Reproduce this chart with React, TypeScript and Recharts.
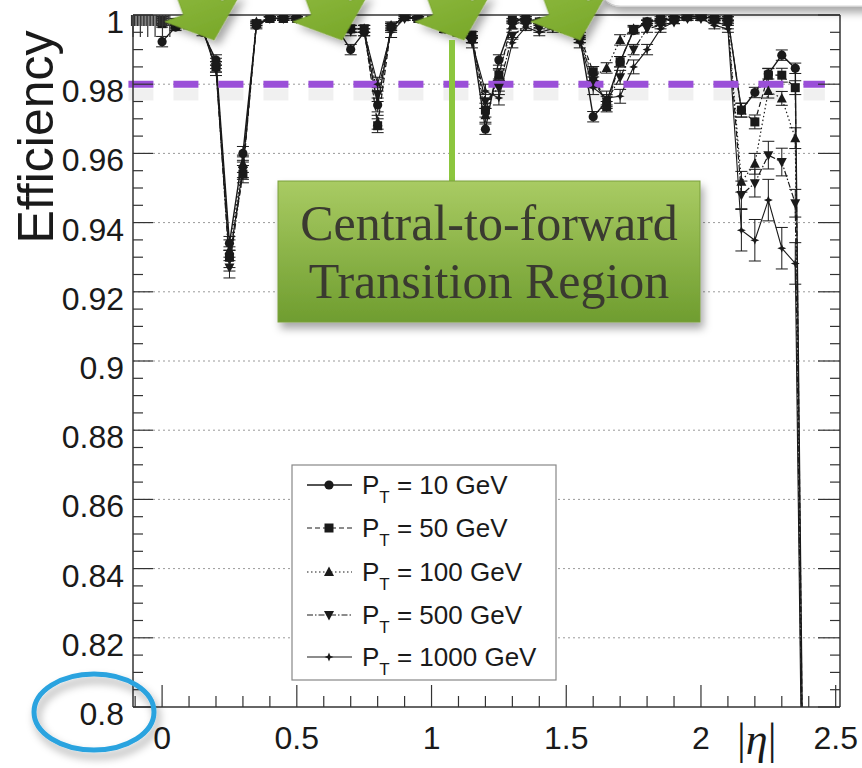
import React from 'react'
import { LineChart, Line, XAxis, YAxis, ErrorBar, ReferenceLine } from 'recharts'

// |eta| bin centres
const etaBins = [
  0, 0.05, 0.1, 0.15, 0.2, 0.25, 0.3, 0.35, 0.4, 0.45,
  0.5, 0.55, 0.6, 0.65, 0.7, 0.75, 0.8, 0.85, 0.9, 0.95,
  1.0, 1.05, 1.1, 1.15, 1.2, 1.25, 1.3, 1.35, 1.4, 1.45,
  1.5, 1.55, 1.6, 1.65, 1.7, 1.75, 1.8, 1.85, 1.9, 1.95,
  2.0, 2.05, 2.1, 2.15, 2.2, 2.25, 2.3, 2.35, 2.4,
]

const eff10 = [
  0.9923, 0.9965, 0.997, 0.995, 0.987, 0.934, 0.96, 0.997, 0.999, 0.999,
  0.999, 0.9985, 0.998, 0.996, 0.99, 0.995, 0.974, 0.9965, 0.9995, 0.999,
  0.9985, 0.997, 0.996, 0.993, 0.967, 0.987, 0.998, 0.999, 0.998, 0.998,
  0.997, 0.994, 0.9706, 0.975, 0.9865, 0.9955, 0.998, 0.9985, 0.999, 0.9995,
  0.9995, 0.999, 0.999, 0.9725, 0.9776, 0.983, 0.9884, 0.9846, 0.62,
]
const eff50 = [
  0.9975, 0.997, 0.998, 0.996, 0.985, 0.93, 0.954, 0.9975, 0.999, 0.999,
  0.999, 0.9985, 0.998, 0.997, 0.996, 0.996, 0.968, 0.9966, 0.9995, 0.999,
  0.9985, 0.996, 0.996, 0.9942, 0.9725, 0.9826, 0.9985, 0.999, 0.998, 0.998,
  0.997, 0.994, 0.9836, 0.9735, 0.9865, 0.9958, 0.998, 0.999, 0.999, 0.9995,
  0.9995, 0.999, 0.999, 0.9725, 0.9691, 0.9826, 0.9826, 0.979, 0.62,
]
const eff100 = [
  0.998, 0.9975, 0.998, 0.996, 0.986, 0.932, 0.957, 0.998, 0.999, 0.999,
  0.999, 0.9985, 0.998, 0.997, 0.996, 0.996, 0.969, 0.997, 0.9995, 0.999,
  0.9985, 0.996, 0.995, 0.993, 0.971, 0.983, 0.997, 0.9985, 0.998, 0.9975,
  0.9965, 0.993, 0.982, 0.9847, 0.9928, 0.996, 0.998, 0.998, 0.999, 0.9995,
  0.9995, 0.999, 0.998, 0.9518, 0.957, 0.978, 0.9759, 0.9644, 0.62,
]
const eff500 = [
  0.9985, 0.998, 0.998, 0.996, 0.985, 0.927, 0.955, 0.9975, 0.999, 0.999,
  0.999, 0.9985, 0.998, 0.997, 0.996, 0.996, 0.977, 0.996, 0.999, 0.999,
  0.998, 0.996, 0.995, 0.993, 0.975, 0.979, 0.994, 0.997, 0.996, 0.997,
  0.996, 0.993, 0.981, 0.975, 0.982, 0.99, 0.996, 0.997, 0.998, 0.999,
  0.999, 0.998, 0.997, 0.948, 0.9514, 0.9595, 0.9575, 0.9456, 0.62,
]
const eff1000 = [
  0.9985, 0.998, 0.998, 0.996, 0.984, 0.929, 0.956, 0.997, 0.999, 0.999,
  0.999, 0.998, 0.998, 0.997, 0.995, 0.995, 0.98, 0.995, 0.999, 0.999,
  0.998, 0.996, 0.995, 0.992, 0.978, 0.976, 0.992, 0.9965, 0.995, 0.996,
  0.996, 0.992, 0.979, 0.976, 0.9765, 0.985, 0.99, 0.996, 0.998, 0.999,
  0.999, 0.997, 0.996, 0.9378, 0.9349, 0.9465, 0.9326, 0.9282, 0.62,
]

// statistical errors (efficiency units)
const err10 = [
  0.0015, 0.001, 0.001, 0.001, 0.0015, 0.002, 0.002, 0.0005, 0.0005, 0.0005,
  0.0005, 0.0005, 0.0005, 0.001, 0.0015, 0.001, 0.002, 0.001, 0.0005, 0.0005,
  0.0005, 0.001, 0.001, 0.001, 0.0015, 0.0015, 0.0005, 0.0005, 0.0005, 0.0005,
  0.001, 0.001, 0.0015, 0.0015, 0.0015, 0.001, 0.0005, 0.0005, 0.0005, 0.0005,
  0.0005, 0.0005, 0.0005, 0.002, 0.0015, 0.0015, 0.0015, 0.0015, 0,
]
const err50 = [
  0.001, 0.001, 0.001, 0.001, 0.0015, 0.003, 0.0025, 0.0005, 0.0005, 0.0005,
  0.0005, 0.0005, 0.0005, 0.001, 0.001, 0.001, 0.002, 0.001, 0.0005, 0.0005,
  0.0005, 0.001, 0.001, 0.001, 0.002, 0.0015, 0.0005, 0.0005, 0.0005, 0.0005,
  0.001, 0.001, 0.0015, 0.0015, 0.0015, 0.001, 0.0005, 0.0005, 0.0005, 0.0005,
  0.0005, 0.0005, 0.0005, 0.002, 0.002, 0.002, 0.002, 0.002, 0,
]
const err100 = [
  0.001, 0.001, 0.001, 0.001, 0.0015, 0.003, 0.0025, 0.0005, 0.0005, 0.0005,
  0.0005, 0.0005, 0.0005, 0.001, 0.001, 0.001, 0.002, 0.001, 0.0005, 0.0005,
  0.0005, 0.001, 0.001, 0.001, 0.002, 0.0015, 0.001, 0.0005, 0.0005, 0.0005,
  0.001, 0.001, 0.0015, 0.0015, 0.0015, 0.001, 0.0005, 0.0005, 0.0005, 0.0005,
  0.0005, 0.0005, 0.0005, 0.003, 0.003, 0.002, 0.002, 0.003, 0,
]
const err500 = [
  0.001, 0.001, 0.001, 0.001, 0.0015, 0.003, 0.0025, 0.0005, 0.0005, 0.0005,
  0.0005, 0.0005, 0.0005, 0.001, 0.001, 0.001, 0.002, 0.001, 0.0005, 0.0005,
  0.0005, 0.001, 0.001, 0.001, 0.002, 0.002, 0.001, 0.001, 0.001, 0.001,
  0.001, 0.001, 0.002, 0.002, 0.002, 0.0015, 0.001, 0.001, 0.0005, 0.0005,
  0.0005, 0.0005, 0.001, 0.004, 0.004, 0.004, 0.004, 0.004, 0,
]
const err1000 = [
  0.001, 0.001, 0.001, 0.001, 0.0015, 0.003, 0.003, 0.001, 0.0005, 0.0005,
  0.0005, 0.0005, 0.0005, 0.001, 0.001, 0.001, 0.002, 0.0015, 0.0005, 0.0005,
  0.0005, 0.001, 0.001, 0.0015, 0.002, 0.002, 0.0015, 0.001, 0.001, 0.001,
  0.001, 0.0015, 0.002, 0.002, 0.002, 0.002, 0.0015, 0.001, 0.0005, 0.0005,
  0.0005, 0.001, 0.001, 0.006, 0.006, 0.006, 0.006, 0.006, 0,
]

const yMajor = [0.8, 0.82, 0.84, 0.86, 0.88, 0.9, 0.92, 0.94, 0.96, 0.98, 1]
const xMajor = [0, 0.5, 1, 1.5, 2, 2.5]
const threshold = 0.98

const ptLabels = ['10', '50', '100', '500', '1000']

const round3 = (v: number) => Math.round(v * 1000) / 1000

// minor ticks: 4 subdivisions on y, 5 on x
const yTicks: number[] = []
yMajor.forEach((v, i) => {
  if (i === yMajor.length - 1) { yTicks.push(v); return }
  const step = (yMajor[i + 1] - v) / 4
  for (let k = 0; k < 4; k++) yTicks.push(round3(v + k * step))
})
const xTicks: number[] = [-0.1]
xMajor.forEach((v, i) => {
  if (i === xMajor.length - 1) { xTicks.push(v); return }
  for (let k = 0; k < 5; k++) xTicks.push(round3(v + k * 0.1))
})

const isMajorY = (v: number) => yMajor.some((m) => Math.abs(m - v) < 1e-6)
const isMajorX = (v: number) => xMajor.some((m) => Math.abs(m - v) < 1e-6)
const fmt = (v: number) => String(Number(v.toFixed(2)))

const rows = etaBins.map((eta, i) => ({
  eta,
  pt10: eff10[i], pt50: eff50[i], pt100: eff100[i], pt500: eff500[i], pt1000: eff1000[i],
  e10: err10[i], e50: err50[i], e100: err100[i], e500: err500[i], e1000: err1000[i],
}))

type MarkerKind = 'circle' | 'square' | 'up' | 'down' | 'star'

const series: Array<{ key: string; err: string; marker: MarkerKind; dash?: string; width: number }> = [
  { key: 'pt10', err: 'e10', marker: 'circle', width: 1.4 },
  { key: 'pt50', err: 'e50', marker: 'square', dash: '5 3', width: 1.2 },
  { key: 'pt100', err: 'e100', marker: 'up', dash: '1.5 2.5', width: 1.2 },
  { key: 'pt500', err: 'e500', marker: 'down', dash: '6 2 1.5 2', width: 1.2 },
  { key: 'pt1000', err: 'e1000', marker: 'star', width: 1.1 },
]

const INK = '#1a1a1a'
const SANS = '"Liberation Sans", Arial, Helvetica, sans-serif'
const SERIF = '"Liberation Serif", "Times New Roman", serif'

function Marker({ kind, cx, cy }: { kind: MarkerKind; cx: number; cy: number }) {
  switch (kind) {
    case 'circle':
      return <circle cx={cx} cy={cy} r={4.6} fill={INK} />
    case 'square':
      return <rect x={cx - 4.5} y={cy - 4.5} width={9} height={9} fill={INK} />
    case 'up':
      return <path d={`M${cx},${cy - 5.5}L${cx + 5},${cy + 4}L${cx - 5},${cy + 4}Z`} fill={INK} />
    case 'down':
      return <path d={`M${cx},${cy + 5.5}L${cx + 5},${cy - 4}L${cx - 5},${cy - 4}Z`} fill={INK} />
    default:
      return (
        <path
          d={`M${cx},${cy - 4.5}L${cx + 1.3},${cy - 1.3}L${cx + 4.5},${cy}L${cx + 1.3},${cy + 1.3}L${cx},${cy + 4.5}L${cx - 1.3},${cy + 1.3}L${cx - 4.5},${cy}L${cx - 1.3},${cy - 1.3}Z`}
          fill={INK}
        />
      )
  }
}

function LeftTick({ x, y, payload }: any) {
  const major = isMajorY(payload.value)
  return (
    <g>
      <line x1={x} x2={x + (major ? 20 : 10)} y1={y} y2={y} stroke="#333" strokeWidth={1.2} />
      {major && (
        <text x={x - 9} y={y + 18} textAnchor="end" fontSize={32} fontFamily={SANS} fill={INK}>
          {fmt(payload.value)}
        </text>
      )}
    </g>
  )
}

function RightTick({ x, y, payload }: any) {
  const major = isMajorY(payload.value)
  return <line x1={x} x2={x - (major ? 22 : 10)} y1={y} y2={y} stroke="#333" strokeWidth={1.2} />
}

function BottomTick({ x, y, payload }: any) {
  const major = isMajorX(payload.value)
  return (
    <g>
      <line x1={x} x2={x} y1={y} y2={y - (major ? 22 : 11)} stroke="#333" strokeWidth={1.2} />
      {major && (
        <text x={x} y={y + 42} textAnchor="middle" fontSize={32} fontFamily={SANS} fill={INK}>
          {fmt(payload.value)}
        </text>
      )}
    </g>
  )
}

function TopTick({ x, y, payload }: any) {
  const major = isMajorX(payload.value)
  return <line x1={x} x2={x} y1={y} y2={y + (major ? 22 : 11)} stroke="#333" strokeWidth={1.2} />
}

// block arrow pointing down, tip at origin
const arrowPts = '0,0 40,-34 20,-34 20,-190 -20,-190 -20,-34 -40,-34'
const arrowTips = [214, 342, 464, 580]

function Overlay() {
  const legendRows = [485, 528, 572, 615, 657]
  return (
    <svg
      width={862}
      height={768}
      style={{ position: 'absolute', left: 0, top: 0, pointerEvents: 'none', overflow: 'visible' }}
    >
      <defs>
        <linearGradient id="arrowGrad" x1="0" y1="0" x2="0" y2="1">
          <stop offset="0" stopColor="#b3d86a" />
          <stop offset="1" stopColor="#79a829" />
        </linearGradient>
        <linearGradient id="boxGrad" x1="0" y1="0" x2="0" y2="1">
          <stop offset="0" stopColor="#a9cb63" />
          <stop offset="1" stopColor="#6f9d2f" />
        </linearGradient>
        <filter id="soft" x="-20%" y="-20%" width="150%" height="160%">
          <feDropShadow dx="3" dy="6" stdDeviation="4" floodColor="#000" floodOpacity="0.35" />
        </filter>
      </defs>

      {/* callout edge at the top right */}
      <rect x={598} y={-50} width={300} height={56} rx={22} fill="#fff" stroke="#d6d6d6" filter="url(#soft)" />

      {arrowTips.map((tx) => (
        <polygon
          key={tx}
          points={arrowPts}
          transform={`translate(${tx},40) rotate(-20)`}
          fill="url(#arrowGrad)"
          stroke="#7aa32e"
          strokeWidth={0.8}
          filter="url(#soft)"
        />
      ))}

      <line x1={452} x2={452} y1={40} y2={182} stroke="#8cc63e" strokeWidth={6} />

      <rect x={278} y={181} width={422} height={141} fill="url(#boxGrad)" stroke="#7b9f3c" strokeWidth={1} filter="url(#soft)" />
      <text x={489} y={240} textAnchor="middle" fontSize={50} fontFamily={SERIF} fill="#3a3a30">
        Central-to-forward
      </text>
      <text x={489} y={298} textAnchor="middle" fontSize={50} fontFamily={SERIF} fill="#3a3a30">
        Transition Region
      </text>

      {/* legend */}
      <rect x={292} y={465} width={264} height={215} fill="#fff" stroke="#888" strokeWidth={1.2} />
      {series.map((s, i) => (
        <g key={s.key}>
          <line
            x1={307}
            x2={352}
            y1={legendRows[i]}
            y2={legendRows[i]}
            stroke={INK}
            strokeWidth={s.width}
            strokeDasharray={s.dash}
          />
          <Marker kind={s.marker} cx={329} cy={legendRows[i]} />
          <text x={362} y={legendRows[i] + 9} fontSize={26} fontFamily={SANS} fill={INK}>
            P
            <tspan dy={9} fontSize={17}>T</tspan>
            <tspan dy={-9}>{` = ${ptLabels[i]} GeV`}</tspan>
          </text>
        </g>
      ))}

      <text
        transform="translate(53,137) rotate(-90)"
        textAnchor="middle"
        fontSize={50}
        fontFamily={SANS}
        fill={INK}
      >
        Efficiency
      </text>

      <text x={737} y={754} fontSize={44} fontFamily={SERIF} fill={INK}>
        |<tspan fontStyle="italic">η</tspan>|
      </text>

      <ellipse cx={94} cy={712} rx={60} ry={38} fill="none" stroke="#2aa3df" strokeWidth={5} filter="url(#soft)" />
    </svg>
  )
}

export default function App() {
  return (
    <div style={{ position: 'absolute', left: 0, top: 0, width: 862, height: 768, background: '#fff' }}>
      <LineChart
        width={862}
        height={768}
        data={rows}
        margin={{ top: 13, right: 20, bottom: 11, left: 73 }}
      >
        <XAxis
          dataKey="eta"
          type="number"
          domain={[-0.108, 2.516]}
          allowDataOverflow
          ticks={xTicks}
          interval={0}
          tickSize={0}
          tickMargin={0}
          tickLine={false}
          tick={<BottomTick />}
          axisLine={{ stroke: '#333', strokeWidth: 1.5 }}
          height={50}
        />
        <XAxis
          xAxisId="t"
          orientation="top"
          type="number"
          domain={[-0.108, 2.516]}
          allowDataOverflow
          ticks={xTicks}
          interval={0}
          tickSize={0}
          tickMargin={0}
          tickLine={false}
          tick={<TopTick />}
          axisLine={{ stroke: '#333', strokeWidth: 1.5 }}
          height={2}
        />
        <YAxis
          type="number"
          domain={[0.8, 1]}
          allowDataOverflow
          ticks={yTicks}
          interval={0}
          tickSize={0}
          tickMargin={0}
          tickLine={false}
          tick={<LeftTick />}
          axisLine={{ stroke: '#333', strokeWidth: 1.5 }}
          width={60}
        />
        <YAxis
          yAxisId="r"
          orientation="right"
          type="number"
          domain={[0.8, 1]}
          allowDataOverflow
          ticks={yTicks}
          interval={0}
          tickSize={0}
          tickMargin={0}
          tickLine={false}
          tick={<RightTick />}
          axisLine={{ stroke: '#333', strokeWidth: 1.5 }}
          width={2}
        />

        {yMajor.slice(1, -1).map((v) => (
          <ReferenceLine key={v} y={v} stroke="#9a9a9a" strokeDasharray="2 3" strokeWidth={1} />
        ))}

        {series.map((s) => (
          <Line
            key={s.key}
            dataKey={s.key}
            type="linear"
            stroke={INK}
            strokeWidth={s.width}
            strokeDasharray={s.dash}
            isAnimationActive={false}
            dot={(p: any) =>
              p.cy == null || Number.isNaN(p.cy) ? (
                <g key={`${s.key}-${p.index}`} />
              ) : (
                <Marker key={`${s.key}-${p.index}`} kind={s.marker} cx={p.cx} cy={p.cy} />
              )
            }
            activeDot={false}
          >
            <ErrorBar dataKey={s.err} width={6} stroke={INK} strokeWidth={1} direction="y" />
          </Line>
        ))}

        <ReferenceLine
          segment={[{ x: -0.125, y: threshold - 0.003 }, { x: 2.46, y: threshold - 0.003 }]}
          stroke="rgba(0,0,0,0.06)"
          strokeWidth={12}
          strokeDasharray="25 20"
          ifOverflow="visible"
        />
        <ReferenceLine
          segment={[{ x: -0.125, y: threshold }, { x: 2.46, y: threshold }]}
          stroke="#9a4fd8"
          strokeWidth={7}
          strokeDasharray="25 20"
          ifOverflow="visible"
        />
      </LineChart>
      <Overlay />
    </div>
  )
}
